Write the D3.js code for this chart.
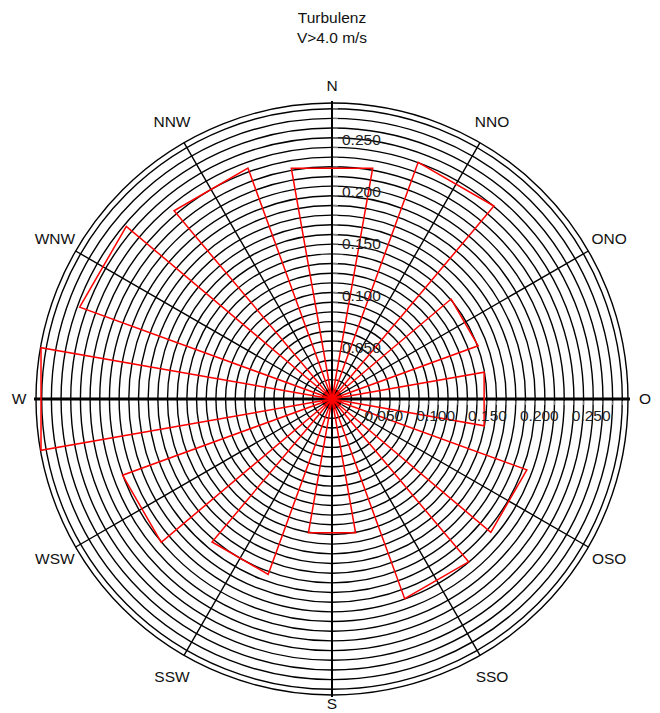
<!DOCTYPE html>
<html>
<head>
<meta charset="utf-8">
<script src="https://cdn.jsdelivr.net/npm/d3@7"></script>
<style>
  html, body { margin: 0; padding: 0; background: #fff; }
  svg { display: block; }
  text { font-family: "Liberation Sans", Arial, sans-serif; }
</style>
</head>
<body>
<div id="chart"></div>
<script>
// ---- data ----
const directions = [0, 30, 60, 90, 120, 150, 180, 210, 240, 270, 300, 330];
const dirLabels = ["N", "NNO", "ONO", "O", "OSO", "SSO", "S", "SSW", "WSW", "W", "WNW", "NNW"];
const frequencies = [0.226, 0.243, 0.150, 0.149, 0.200, 0.205, 0.131, 0.180, 0.215, 0.285, 0.259, 0.237];
const tickValues = [0.05, 0.10, 0.15, 0.20, 0.25];
const tickLabels = ["0.050", "0.100", "0.150", "0.200", "0.250"];
const titleLines = ["Turbulenz", "V>4.0 m/s"];
const maxValue = 0.2855;
const ringCount = 30;
const sectorHalfWidth = 10;

// ---- layout ----
const W = 660, H = 713;
const cx = 332, cy = 399, R = 296;

const svg = d3.select("#chart").append("svg").attr("width", W).attr("height", H);

const r = d3.scaleLinear().domain([0, maxValue]).range([0, R]);
const rad = d => (d - 90) * Math.PI / 180;
const px = (deg, rr) => cx + rr * Math.cos(rad(deg));
const py = (deg, rr) => cy + rr * Math.sin(rad(deg));

// title
svg.selectAll("text.title").data(titleLines).enter().append("text")
  .attr("class", "title")
  .attr("x", cx).attr("y", (d, i) => 23 + i * 20)
  .attr("text-anchor", "middle")
  .attr("font-size", 15.5).attr("fill", "#111")
  .text(d => d);

const g = svg.append("g");

// center red disc
g.append("circle").attr("cx", cx).attr("cy", cy).attr("r", 9.5).attr("fill", "#ff0000");

// rings
const ringStep = r(0.28) / ringCount;
const rings = d3.range(1, ringCount + 1).map(i => i * ringStep);
g.selectAll("circle.ring").data(rings).enter().append("circle")
  .attr("class", "ring")
  .attr("cx", cx).attr("cy", cy).attr("r", d => d)
  .attr("fill", "none").attr("stroke", "#000").attr("stroke-width", 1.4);
g.append("circle").attr("cx", cx).attr("cy", cy).attr("r", R)
  .attr("fill", "none").attr("stroke", "#000").attr("stroke-width", 1.4);

// spokes
g.selectAll("line.spoke").data(directions).enter().append("line")
  .attr("class", "spoke")
  .attr("x1", cx).attr("y1", cy)
  .attr("x2", d => px(d, d % 90 === 0 ? R + 2 : R))
  .attr("y2", d => py(d, d % 90 === 0 ? R + 2 : R))
  .attr("stroke", "#000")
  .attr("stroke-width", d => d % 180 === 0 ? 2 : (d % 90 === 0 ? 3 : 1.4));

// minor ticks on N and O axis
g.selectAll("line.tickN").data(rings).enter().append("line")
  .attr("x1", cx + 1).attr("x2", cx + 6)
  .attr("y1", d => cy - d).attr("y2", d => cy - d)
  .attr("stroke", "#888").attr("stroke-width", 1);
g.selectAll("line.tickO").data(rings).enter().append("line")
  .attr("y1", cy + 2).attr("y2", cy + 6)
  .attr("x1", d => cx + d).attr("x2", d => cx + d)
  .attr("stroke", "#888").attr("stroke-width", 1);

// sectors
const sectorPath = (dir, v) => {
  const rr = r(v);
  return "M" + cx + "," + cy +
    "L" + px(dir - sectorHalfWidth, rr) + "," + py(dir - sectorHalfWidth, rr) +
    "L" + px(dir + sectorHalfWidth, rr) + "," + py(dir + sectorHalfWidth, rr) + "Z";
};
g.selectAll("path.sector").data(directions).enter().append("path")
  .attr("class", "sector")
  .attr("d", (d, i) => sectorPath(d, frequencies[i]))
  .attr("fill", "none").attr("stroke", "#ff0000").attr("stroke-width", 1.5)
  .attr("stroke-linejoin", "miter");

// value labels along N axis
g.selectAll("text.vN").data(tickValues).enter().append("text")
  .attr("x", cx + 10).attr("y", d => cy - r(d) + 5.5)
  .attr("font-size", 15.5).attr("fill", "#222")
  .text((d, i) => tickLabels[i]);
// value labels along O axis
g.selectAll("text.vO").data(tickValues).enter().append("text")
  .attr("x", d => cx + r(d)).attr("y", cy + 22)
  .attr("text-anchor", "middle")
  .attr("font-size", 15.5).attr("fill", "#222")
  .text((d, i) => tickLabels[i]);

// direction labels
const labelRadius = d => d === 180 ? 305 : (d % 90 === 0 ? 313 : 320);
g.selectAll("text.dir").data(directions).enter().append("text")
  .attr("x", d => px(d, labelRadius(d)))
  .attr("y", d => py(d, labelRadius(d)))
  .attr("dy", "0.35em")
  .attr("text-anchor", "middle")
  .attr("font-size", 15.5).attr("fill", "#111")
  .text((d, i) => dirLabels[i]);
</script>
</body>
</html>
